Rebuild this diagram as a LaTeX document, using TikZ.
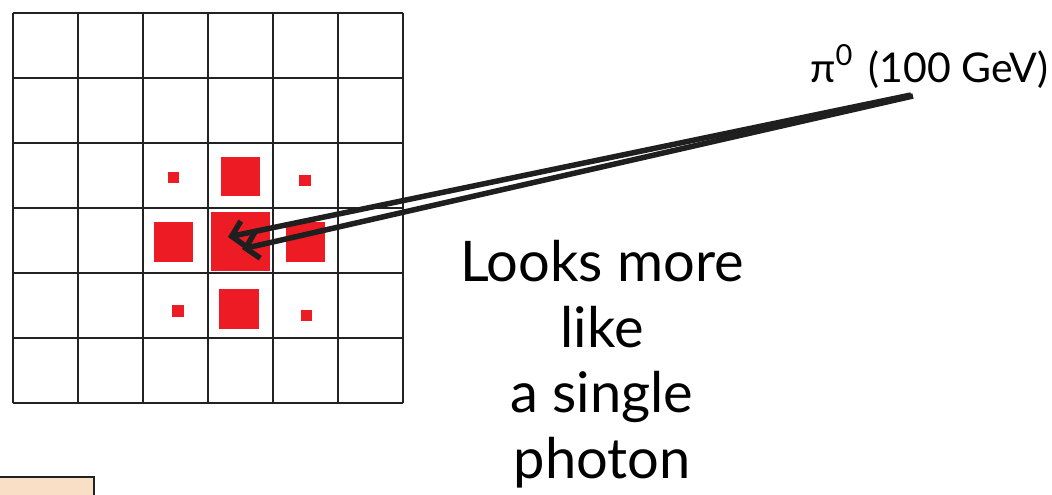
\documentclass[tikz,border=0pt]{standalone}
\usepackage{fontspec}
\setmainfont{Lato}
\usetikzlibrary{arrows.meta}
\definecolor{hitred}{HTML}{ED1C24}
\definecolor{beige}{HTML}{F8DFC5}
\definecolor{gridc}{HTML}{222222}
\begin{document}
\begin{tikzpicture}[x=1pt,y=-1pt,
  gridline/.style={draw=gridc,line width=1.8pt},
  hit/.style={fill=hitred,draw=none},
  track/.style={draw=black!88,line width=5.5pt,-{Straight Barb[length=12pt,width=26pt]}},
  bigtext/.style={font=\fontsize{56}{65.5}\selectfont,align=center,inner sep=0pt},
  labeltext/.style={font=\fontsize{41}{48}\selectfont,inner sep=0pt,anchor=base east}
]
\useasboundingbox (0,0) rectangle (1052,495);
% beige box (cut off)
\draw[draw=gridc,fill=beige,line width=1.8pt] (-5,477) rectangle (94,505);
% red energy deposits
\fill[hit] (211,212) rectangle (270,271);
\fill[hit] (221,157) rectangle (260,196);
\fill[hit] (154,222) rectangle (193,262);
\fill[hit] (286,222) rectangle (325,262);
\fill[hit] (219,289) rectangle (259,329);
\fill[hit] (168,172) rectangle (179,183);
\fill[hit] (299,175) rectangle (311,186);
\fill[hit] (172,305) rectangle (184,317);
\fill[hit] (301,310) rectangle (312,321);
% grid
\foreach \i in {13,78,143,208,273,338,403}{
  \draw[gridline] (\i,13) -- (\i,403);
  \draw[gridline] (13,\i) -- (403,\i);
}
% label
\node[labeltext] (pi) at (1049,82) {π\raisebox{0.4em}{\fontsize{29}{32}\selectfont 0}\hspace{0.4em}(100 GeV)};
% tracks
\coordinate (src1) at (911,95);
\coordinate (src2) at (913,96);
\coordinate (tip1) at (228,237);
\coordinate (tip2) at (242,249);
\draw[track] (src1) -- (tip1);
\draw[track] (src2) -- (tip2);
% text
\node[bigtext,anchor=base] (txt) at (602,478) {Looks more\\like\\a single\\photon};
\end{tikzpicture}
\end{document}
